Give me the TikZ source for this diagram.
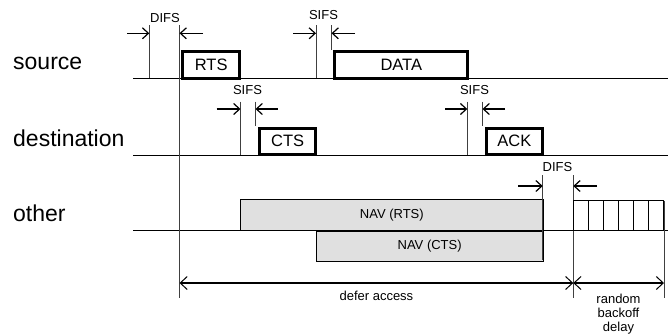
\documentclass[tikz,border=0pt]{standalone}
\usepackage{fontspec}
\setmainfont{Liberation Sans}
\usetikzlibrary{arrows.meta}

\tikzset{
    pkt/.style={draw,line width=3pt,inner sep=0pt,anchor=north west,minimum height=26.5pt,font=\fontsize{16.5}{18}\selectfont},
    nav/.style={draw,line width=0.9pt,fill=black!12,inner sep=0pt,anchor=north west,font=\fontsize{13}{15}\selectfont},
    tick/.style={black!75,line width=0.9pt},
    tmark/.style={-{Straight Barb[length=6pt,width=11pt]},line width=1.2pt},
    lbl/.style={font=\fontsize{13}{14.5}\selectfont,align=center},
    row/.style={anchor=west,inner sep=0pt,font=\fontsize{23}{25}\selectfont}
}

\begin{document}
\begin{tikzpicture}[x=1pt,y=-1pt]
    \useasboundingbox (0,0) rectangle (668,335);

    % time axes
    \draw[line width=0.9pt] (133,78) -- (668,78) (133,155) -- (668,155) (133,230.5) -- (668,230.5);
    \node[row] (src) at (13,63) {source};
    \node[row] (dst) at (13,138) {destination};
    \node[row] (oth) at (13,213) {other};

    % Source row
    \coordinate (d1) at (149.3,25); \coordinate (d2) at (179.5,25); \coordinate (s1) at (316,25); \coordinate (s2) at (331.5,25);
    \draw[tick] (d1) -- (149.3,78) (d2) -- (179.5,298) (s1) -- (316,78) (s2) -- (331.5,50);
    \node[pkt,minimum width=56.7pt] (rts) at (181.3,50.3) {RTS};
    \node[pkt,minimum width=133pt] (data) at (333.3,50.3) {DATA};
    \draw[tmark] (127,33.3) -- (d1 |- 0,33.3);
    \draw[tmark] (203,33.3) -- (d2 |- 0,33.3);
    \draw[tmark] (293,33.3) -- (s1 |- 0,33.3);
    \draw[tmark] (355,33.3) -- (s2 |- 0,33.3);
    \node[lbl] (difsa) at (165,18) {DIFS};
    \node[lbl] (sifsa) at (323.5,15) {SIFS};

    % Destination row
    \coordinate (s3) at (240.5,101.7); \coordinate (s4) at (255.5,101.7); \coordinate (s5) at (467.3,101.7); \coordinate (s6) at (482.5,101.7);
    \draw[tick] (s3) -- (240.5,155) (s4) -- (255.5,126) (s5) -- (467.3,155) (s6) -- (482.5,126);
    \node[pkt,minimum width=56.3pt] (cts) at (258,126.5) {CTS};
    \node[pkt,minimum width=56.8pt] (ack) at (484.5,126.5) {ACK};
    \draw[tmark] (216.7,109) -- (s3 |- 0,109);
    \draw[tmark] (277.7,109) -- (s4 |- 0,109);
    \draw[tmark] (445,109) -- (s5 |- 0,109);
    \draw[tmark] (505,109) -- (s6 |- 0,109);
    \node[lbl] (sifsb) at (247.5,90) {SIFS};
    \node[lbl] (sifsc) at (474.5,90) {SIFS};

    % Other row
    \node[nav,minimum width=302.7pt,minimum height=30.7pt] (navrts) at (240,199.3) {NAV (RTS)};
    \node[nav,minimum width=227pt,minimum height=30pt] (navcts) at (315.7,230.5) {NAV (CTS)};
    \coordinate (d3) at (542.7,175); \coordinate (d4) at (573.3,175); \coordinate (be) at (664,200.7);
    \draw[tick] (d3) -- (542.7,260) (d4) -- (573.3,298) (be) -- (664,298);
    \foreach \i in {0,...,5}
        \draw[line width=1.5pt] (573.3+15*\i,200.7) rectangle (588.3+15*\i,230.5);
    \draw[tmark] (518,186) -- (d3 |- 0,186);
    \draw[tmark] (597,186) -- (d4 |- 0,186);
    \node[lbl] (difsb) at (557.5,167.3) {DIFS};

    % defer access / backoff
    \draw[{Straight Barb[length=7pt,width=13pt,line width=1pt]}-{Straight Barb[length=7pt,width=13pt,line width=1pt]},line width=2pt] (d2 |- 0,283) -- (d4 |- 0,283) node[lbl,midway,below=4pt] (defer) {defer access};
    \draw[{Straight Barb[length=7pt,width=13pt,line width=1pt]}-{Straight Barb[length=7pt,width=13pt,line width=1pt]},line width=2pt] (d4 |- 0,283) -- (be |- 0,283);
    \node[lbl,font=\fontsize{13}{14}\selectfont,inner sep=0pt] (rbd) at (618.5,314.5) {random\\backoff\\delay};
\end{tikzpicture}
\end{document}
